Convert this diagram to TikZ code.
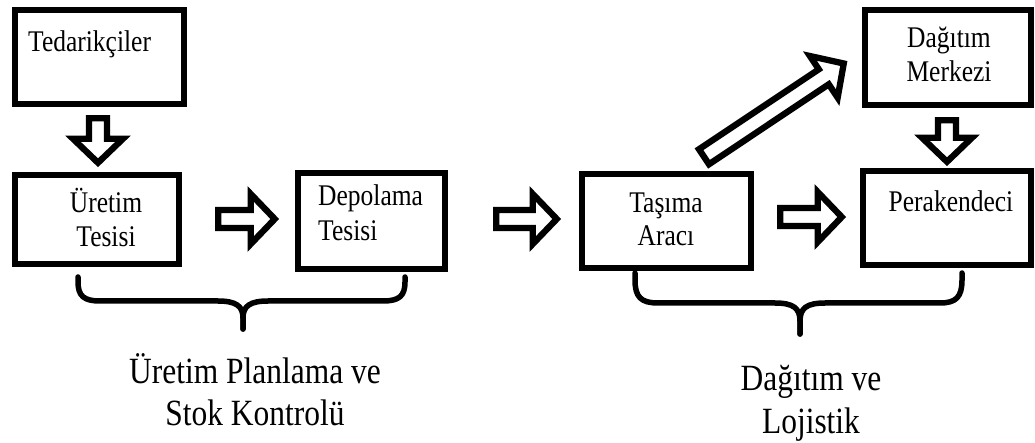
\documentclass[tikz,border=0pt]{standalone}
\usepackage{fontspec}
\setmainfont{Liberation Serif}[FakeStretch=0.85]
\usetikzlibrary{calc}
\tikzset{
  boxnode/.style={draw=black, line width=6.5pt, fill=white, inner sep=0pt},
  boxtext/.style={inner sep=0pt, font=\fontsize{30}{34}\selectfont, anchor=base},
  bigtext/.style={inner sep=0pt, font=\fontsize{37}{42}\selectfont, anchor=base},
  fatarr/.style={draw=black, fill=white, line width=6.3pt, line join=miter},
  bracepath/.style={draw=black, line width=5.5pt, line cap=round, line join=round}
}
\newcommand{\fatarrow}[2]{%
  \coordinate (#1h) at ($(#2)!24pt!(#1)$);
  \path[fatarr] ($(#1)!9pt!90:(#2)$) -- ($(#1h)!9pt!90:(#2)$) -- ($(#1h)!25pt!90:(#2)$)
    -- (#2) -- ($(#1h)!25pt!-90:(#2)$) -- ($(#1h)!9pt!-90:(#2)$) -- ($(#1)!9pt!-90:(#2)$) -- cycle;
}
\begin{document}
\begin{tikzpicture}[x=1pt,y=-1pt]
\useasboundingbox (0,0) rectangle (1035,443);
% boxes
\node[boxnode, minimum width=169pt, minimum height=94pt] (ted) at (99.5,57) {};
\node[boxnode, minimum width=164pt, minimum height=89pt] (ured) at (97,219.5) {};
\node[boxnode, minimum width=147pt, minimum height=96pt] (depo) at (371.5,221) {};
\node[boxnode, minimum width=169pt, minimum height=94pt] (tas) at (666.5,221) {};
\node[boxnode, minimum width=168pt, minimum height=94pt] (per) at (947,218) {};
\node[boxnode, minimum width=166pt, minimum height=95pt] (dag) at (948,57.5) {};
% box texts
\node[boxtext, anchor=base west] (tedt) at (28,52) {Tedarikçiler};
\node[boxtext] (uredt1) at (106,213) {Üretim};
\node[boxtext] (uredt2) at (106,247) {Tesisi};
\node[boxtext, anchor=base west] (depot1) at (318,206) {Depolama};
\node[boxtext, anchor=base west] (depot2) at (318,241) {Tesisi};
\node[boxtext] (tast1) at (666,213) {Taşıma};
\node[boxtext] (tast2) at (666,246) {Aracı};
\node[boxtext] (pert) at (951,212) {Perakendeci};
\node[boxtext] (dagt1) at (949,48) {Dağıtım};
\node[boxtext] (dagt2) at (949,82) {Merkezi};
% arrow end points
\coordinate (a1s) at ($(ted.south)+(-1.5,11)$);
\coordinate (a1e) at ($(ured.north)+(1,-9)$);
\coordinate (a2s) at ($(ured.east)+(36,-0.5)$);
\coordinate (a2e) at ($(depo.west)+(-20,-2)$);
\coordinate (a3s) at ($(depo.east)+(48,-2)$);
\coordinate (a3e) at ($(tas.west)+(-22,-2)$);
\coordinate (a4s) at ($(tas.east)+(26,-4)$);
\coordinate (a4e) at ($(per.west)+(-18,-1)$);
\coordinate (a5s) at ($(dag.south)+(-1,12)$);
\coordinate (a5e) at ($(per.north)+(0,-6)$);
\coordinate (a6s) at ($(tas.north)+(37.5,-14)$);
\coordinate (a6e) at ($(dag.west)+(-18,6)$);
\fatarrow{a1s}{a1e}
\fatarrow{a2s}{a2e}
\fatarrow{a3s}{a3e}
\fatarrow{a4s}{a4e}
\fatarrow{a5s}{a5e}
\fatarrow{a6s}{a6e}
% braces
\path[bracepath] (78,277) -- (78,282) .. controls (78,296) and (84,301) .. (100,301)
  -- (218,301) .. controls (236,301) and (243,306) .. (243,318) -- (243,329);
\path[bracepath] (243,329) -- (243,318) .. controls (243,306) and (250,301) .. (268,301)
  -- (383,301) .. controls (399,301) and (405,296) .. (405,282) -- (405,277);
\path[bracepath] (635,273) -- (635,280) .. controls (635,297) and (641,303) .. (658,303)
  -- (775,303) .. controls (793,303) and (800,308) .. (800,321) -- (800,334);
\path[bracepath] (800,334) -- (800,321) .. controls (800,308) and (807,303) .. (825,303)
  -- (940,303) .. controls (956,303) and (962,297) .. (962,280) -- (962,273);
% labels
\node[bigtext] (l1a) at (255,383) {Üretim Planlama ve};
\node[bigtext] (l1b) at (255,425) {Stok Kontrolü};
\node[bigtext] (l2a) at (811,390) {Dağıtım ve};
\node[bigtext] (l2b) at (811,433) {Lojistik};
\end{tikzpicture}
\end{document}
